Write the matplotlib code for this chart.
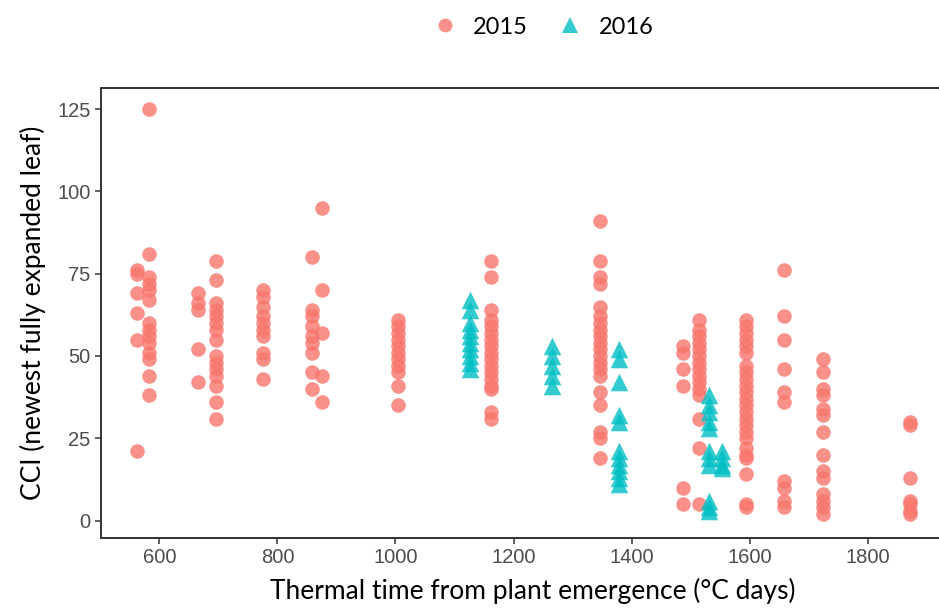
import numpy as np
import matplotlib
matplotlib.use("Agg")
import matplotlib.pyplot as plt
from matplotlib.lines import Line2D

# thermal time (degC days) of each sampling, and CCI readings at that time
tt_2015 = [562, 583, 665, 696, 775, 858, 875, 1004, 1162, 1347, 1488, 1514, 1594, 1659, 1724, 1872]
cci_2015 = [
    [76, 75, 69, 63, 55, 21],
    [125, 81, 74, 72, 70, 67, 60, 58, 56, 54, 51, 49, 44, 38],
    [69, 66, 64, 52, 42],
    [79, 73, 66, 64, 62, 60, 58, 55, 50, 48, 46, 44, 41, 36, 31],
    [70, 68, 65, 62, 60, 58, 56, 51, 49, 43],
    [80, 64, 62, 59, 56, 54, 51, 45, 40],
    [95, 70, 57, 44, 36],
    [61, 59, 57, 55, 53, 51, 49, 47, 45, 41, 35],
    [79, 74, 64, 61, 59, 57, 55, 53, 51, 49, 47, 45, 43, 41, 40, 33, 31],
    [91, 79, 74, 72, 65, 62, 60, 58, 56, 54, 52, 50, 48, 46, 44, 39, 35, 27, 25, 19],
    [53, 51, 46, 41, 10, 5],
    [61, 58, 56, 54, 52, 50, 48, 46, 44, 42, 40, 38, 31, 22, 5],
    [61, 59, 57, 55, 53, 51, 47, 45, 43, 41, 39, 37, 35, 33, 31, 29, 27, 25, 22, 20, 19, 14, 5, 4],
    [76, 62, 55, 46, 39, 36, 12, 10, 6, 4],
    [49, 45, 40, 38, 34, 32, 27, 20, 15, 13, 8, 6, 4, 2],
    [30, 29, 13, 6, 5, 3, 2],
]
tt_2016 = [1127, 1266, 1379, 1532, 1553]
cci_2016 = [
    [67, 64, 60, 58, 56, 54, 52, 50, 48, 46],
    [53, 50, 47, 44, 41],
    [52, 49, 42, 32, 30, 21, 19, 17, 15, 13, 11],
    [38, 35, 33, 30, 28, 21, 19, 17, 6, 4, 3],
    [21, 19, 17, 16],
]

def expand(tt, cci):
    x = np.concatenate([[t] * len(v) for t, v in zip(tt, cci)])
    y = np.concatenate(cci)
    return x, y

x15, y15 = expand(tt_2015, cci_2015)
x16, y16 = expand(tt_2016, cci_2016)

red = "#F8766D"
teal = "#00BFC4"

fig = plt.figure(figsize=(9.39, 6.10), dpi=100)
# right edge of the panel runs past the picture, as in the original
ax = fig.add_axes([101 / 939, 1 - 537.7 / 610, (965 - 101) / 939, (537.7 - 88) / 610])

ax.scatter(x15, y15, s=110, c=red, alpha=0.8, linewidths=0, marker="o")
ax.scatter(x16, y16, s=160, c=teal, alpha=0.8, linewidths=0, marker="^")

ax.set_xlim(501, 1965)
ax.set_ylim(-5.2, 131.4)
ax.set_xticks([600, 800, 1000, 1200, 1400, 1600, 1800])
ax.set_yticks([0, 25, 50, 75, 100, 125])

for side in ["left", "bottom", "top", "right"]:
    ax.spines[side].set_color("#333333")
    ax.spines[side].set_linewidth(1.4)
ax.tick_params(colors="#333333", length=4, width=1.1, labelsize=14.5, labelcolor="#4D4D4D")
for lab in ax.get_xticklabels() + ax.get_yticklabels():
    lab.set_family("Liberation Sans")

ax.set_xlabel("Thermal time from plant emergence (\u00b0C days)", fontsize=19,
              family="Lato", color="black", labelpad=8)
ax.set_ylabel("CCI (newest fully expanded leaf)", fontsize=19,
              family="Lato", color="black", labelpad=8)

handles = [
    Line2D([], [], marker="o", ls="", color=red, alpha=0.8, markersize=10, markeredgewidth=0),
    Line2D([], [], marker="^", ls="", color=teal, alpha=0.8, markersize=11, markeredgewidth=0),
]
fig.legend(handles, ["2015", "2016"], loc="center", bbox_to_anchor=(542 / 939, 1 - 27 / 610),
           ncol=2, frameon=False, prop={"family": "Lato", "size": 17},
           handletextpad=0.6, columnspacing=1.2, handlelength=1.2)

fig.savefig("out.png", dpi=100)
